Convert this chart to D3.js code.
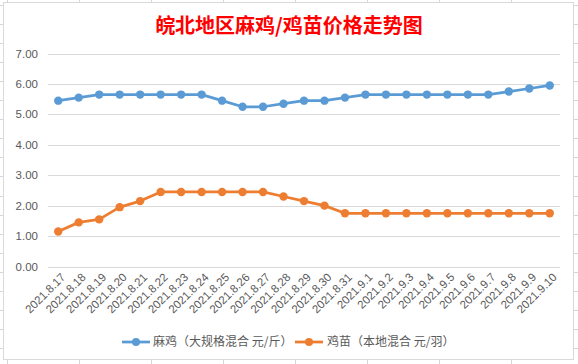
<!DOCTYPE html>
<html><head><meta charset="utf-8">
<script src="https://cdn.jsdelivr.net/npm/d3@7"></script>
<style>body{margin:0;background:#fff}svg{display:block}</style>
</head><body><svg id="c" width="578" height="364"></svg>
<script>
const dates = ["2021.8.17","2021.8.18","2021.8.19","2021.8.20","2021.8.21","2021.8.22","2021.8.23","2021.8.24","2021.8.25","2021.8.26","2021.8.27","2021.8.28","2021.8.29","2021.8.30","2021.8.31","2021.9.1","2021.9.2","2021.9.3","2021.9.4","2021.9.5","2021.9.6","2021.9.7","2021.9.8","2021.9.9","2021.9.10"];
const maji = [5.45,5.55,5.65,5.65,5.65,5.65,5.65,5.65,5.45,5.25,5.25,5.35,5.45,5.45,5.55,5.65,5.65,5.65,5.65,5.65,5.65,5.65,5.75,5.85,5.95];
const jimiao = [1.15,1.45,1.55,1.95,2.15,2.45,2.45,2.45,2.45,2.45,2.45,2.3,2.15,2.0,1.75,1.75,1.75,1.75,1.75,1.75,1.75,1.75,1.75,1.75,1.75];
const yTicks = [0,1,2,3,4,5,6,7];
const seriesNames = ["麻鸡（大规格混合 元/斤）","鸡苗（本地混合 元/羽）"];
const colors = ["#5B9BD5","#ED7D31"];
const title = "皖北地区麻鸡/鸡苗价格走势图";

const svg = d3.select("#c");
const font = "'Liberation Sans','Noto Sans CJK SC',sans-serif";
const cjk = "'Noto Sans CJK SC',sans-serif";

// spreadsheet grid behind
const bg = svg.append("g").attr("stroke","#d5d5de").attr("stroke-width",1);
d3.range(7.5,578,72).forEach(x=>bg.append("line").attr("x1",x).attr("x2",x).attr("y1",0).attr("y2",364));
d3.range(4.5,364,19.1).forEach(y=>bg.append("line").attr("x1",0).attr("x2",578).attr("y1",Math.round(y)+0.5).attr("y2",Math.round(y)+0.5));

// chart box
svg.append("rect").attr("x",3.5).attr("y",2.5).attr("width",570).attr("height",357)
  .attr("fill","#fff").attr("stroke","#d9d9d9");

svg.append("text").attr("x",289).attr("y",33).attr("text-anchor","middle")
  .attr("fill","#ff0000").attr("font-size",20).attr("font-weight","bold").attr("font-family",cjk).text(title);

const x = d3.scaleBand().domain(dates).range([48,560]);
const y = d3.scaleLinear().domain([0,7]).range([266.5,53.5]);

const grid = svg.append("g");
yTicks.forEach(t=>{
  grid.append("line").attr("x1",48).attr("x2",560).attr("y1",Math.round(y(t))+0.5).attr("y2",Math.round(y(t))+0.5)
    .attr("stroke","#d9d9d9").attr("stroke-width",1);
  grid.append("text").attr("x",38).attr("y",y(t)).attr("dy","0.35em").attr("text-anchor","end")
    .attr("fill","#595959").attr("font-size",11.5).attr("font-family",font).text(t.toFixed(2));
});

const xl = svg.append("g");
dates.forEach(d=>{
  const cx = x(d)+x.bandwidth()/2;
  xl.append("text").attr("transform",`translate(${cx+5},${275}) rotate(-45)`)
    .attr("text-anchor","end").attr("dy","0.35em")
    .attr("fill","#595959").attr("font-size",11.5).attr("font-family",font).text(d);
});

const line = d3.line().x((v,i)=>x(dates[i])+x.bandwidth()/2).y(v=>y(v));
[maji,jimiao].forEach((s,k)=>{
  svg.append("path").attr("d",line(s)).attr("fill","none").attr("stroke",colors[k])
    .attr("stroke-width",2.75).attr("stroke-linejoin","round");
  svg.selectAll(null).data(s).enter().append("circle")
    .attr("cx",(v,i)=>x(dates[i])+x.bandwidth()/2).attr("cy",v=>y(v)).attr("r",4.2).attr("fill",colors[k]);
});

// legend
const lg = [{x:122,tx:153},{x:295,tx:327}];
lg.forEach((p,k)=>{
  svg.append("line").attr("x1",p.x).attr("x2",p.x+28).attr("y1",342).attr("y2",342).attr("stroke",colors[k]).attr("stroke-width",2.75);
  svg.append("circle").attr("cx",p.x+14).attr("cy",342).attr("r",4).attr("fill",colors[k]);
  svg.append("text").attr("x",p.tx).attr("y",342).attr("dy","0.35em").attr("fill","#595959")
    .attr("font-size",12).attr("font-family",cjk).text(seriesNames[k]);
});
</script></body></html>
